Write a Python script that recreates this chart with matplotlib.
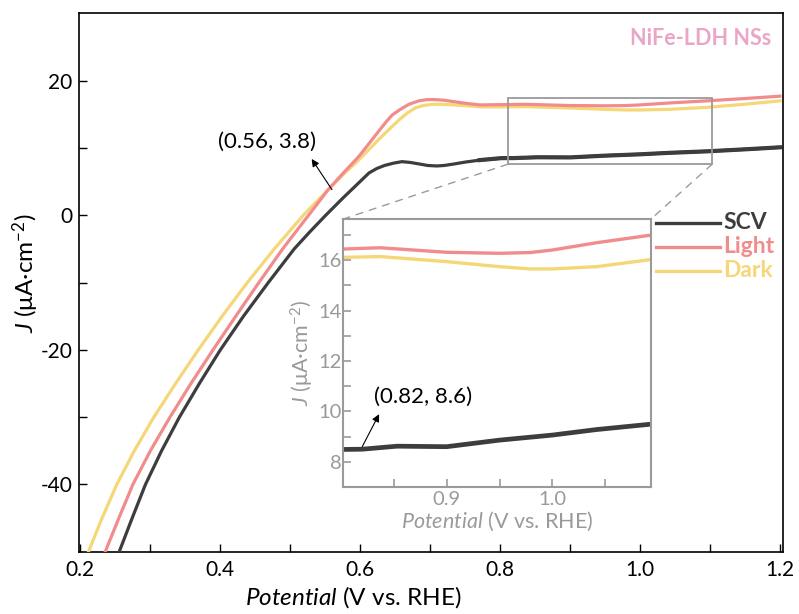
import numpy as np
import matplotlib
matplotlib.use('Agg')
import matplotlib.pyplot as plt
from matplotlib.patches import Rectangle, ConnectionPatch
from matplotlib.lines import Line2D

plt.rcParams['font.family'] = ['Lato', 'DejaVu Sans']
plt.rcParams['mathtext.fontset'] = 'custom'
plt.rcParams['mathtext.rm'] = 'Lato'
plt.rcParams['mathtext.it'] = 'Lato:italic'
plt.rcParams['mathtext.bf'] = 'Lato:bold'
plt.rcParams['axes.unicode_minus'] = False

# LSV curves, J in uA/cm2 vs potential in V vs. RHE
pot_scv = [0.256, 0.2745, 0.2935, 0.3165, 0.342, 0.3705, 0.4005, 0.4335, 0.469, 0.506,
           0.528, 0.551, 0.575, 0.6, 0.613, 0.624, 0.635, 0.648, 0.66, 0.672, 0.686, 0.697,
           0.71, 0.72, 0.733, 0.75, 0.771,
           0.802, 0.82, 0.853, 0.9, 0.95, 1.0, 1.042, 1.095, 1.15, 1.2]
j_scv = [-50, -45, -40, -35, -30, -25, -20, -15, -10, -5,
         -2.5, 0, 2.5, 5, 6.3, 6.95, 7.4, 7.75, 7.97, 7.85, 7.6, 7.4,
         7.33, 7.4, 7.6, 7.9, 8.2,
         8.49, 8.5, 8.62, 8.6, 8.86, 9.06, 9.28, 9.5, 9.8, 10.1]

pot_light = [0.236, 0.2555, 0.2755, 0.3005, 0.3285, 0.3585, 0.39, 0.4225, 0.4555, 0.4895,
             0.5265, 0.5545, 0.5755, 0.598, 0.614, 0.628, 0.6375, 0.646, 0.657, 0.67,
             0.684, 0.695, 0.705, 0.72, 0.733, 0.75, 0.771,
             0.802, 0.837, 0.9, 0.95, 0.979, 1.0, 1.042, 1.095, 1.15, 1.2]
j_light = [-50, -45, -40, -35, -30, -25, -20, -15, -10, -5,
           0, 3.8, 6.2, 8.7, 10.8, 12.66, 13.9, 14.9, 15.7, 16.5,
           17.0, 17.18, 17.2, 17.1, 16.9, 16.65, 16.4,
           16.44, 16.49, 16.31, 16.27, 16.3, 16.4, 16.69, 17.0, 17.35, 17.7]

pot_dark = [0.212, 0.2315, 0.2525, 0.2775, 0.3055, 0.3365, 0.369, 0.403, 0.439, 0.4775,
            0.519, 0.5545, 0.5735, 0.596, 0.613, 0.628, 0.638, 0.647, 0.656, 0.669,
            0.68, 0.69, 0.703, 0.715, 0.735, 0.755, 0.775,
            0.802, 0.837, 0.9, 0.95, 0.979, 1.0, 1.042, 1.095, 1.15, 1.2]
j_dark = [-50, -45, -40, -35, -30, -25, -20, -15, -10, -5,
          0, 3.8, 5.8, 8.0, 9.8, 11.4, 12.4, 13.3, 14.2, 15.3,
          16.0, 16.3, 16.48, 16.5, 16.4, 16.25, 16.1,
          16.11, 16.14, 15.94, 15.74, 15.65, 15.65, 15.74, 16.03, 16.5, 17.0]

# marked points
pt_main = (0.56, 3.8)
pt_inset = (0.82, 8.6)
zoom_box = (0.811, 7.58, 1.103, 17.47)

names = ['SCV', 'Light', 'Dark']
colors = ['#3d3d3d', '#f28c8c', '#f5d778']
grey = '#9a9a9a'

fig = plt.figure(figsize=(7.99, 6.14), dpi=100)
ax = fig.add_axes([0.09925, 0.1013, 0.8804, 0.8769])

ax.plot(pot_dark, j_dark, color=colors[2], lw=2.3, zorder=3)
ax.plot(pot_light, j_light, color=colors[1], lw=2.3, zorder=4)
ax.plot(pot_scv, j_scv, color=colors[0], lw=2.3, zorder=5)
# noisy tail of the SCV scan looks thicker
sel = np.array(pot_scv) >= 0.77
ax.plot(np.array(pot_scv)[sel], np.array(j_scv)[sel], color=colors[0], lw=3.0, zorder=5)

ax.set_xlim(0.199, 1.204)
ax.set_ylim(-50, 30)
ax.set_xticks([0.2, 0.4, 0.6, 0.8, 1.0, 1.2])
ax.set_xticklabels(['0.2', '0.4', '0.6', '0.8', '1.0', '1.2'])
ax.set_xticks([0.3, 0.5, 0.7, 0.9, 1.1], minor=True)
ax.set_yticks([-40, -20, 0, 20])
ax.set_yticks([-30, -10, 10], minor=True)
ax.tick_params(which='both', direction='in', length=6, width=1, labelsize=15)
ax.tick_params(axis='y', pad=5)
ax.tick_params(axis='x', pad=6)
for s in ax.spines.values():
    s.set_linewidth(1.2)

ax.set_xlabel(r'$\mathit{Potential}$ (V vs. RHE)', fontsize=17.5, va='top')
ax.xaxis.set_label_coords(0.389, -0.06)
ax.set_ylabel(r'$\mathit{J}$ (μA·cm$^{-2}$)', fontsize=17.5)
ax.yaxis.set_label_coords(-0.055, 0.518)

ax.text(0.983, 0.954, 'NiFe-LDH NSs', transform=ax.transAxes, ha='right', va='center',
        fontsize=15.5, fontweight='bold', color='#eaa6c8')

ax.annotate('', xy=(0.531, 8.37), xytext=pt_main,
            arrowprops=dict(arrowstyle='-|>', color='black', lw=0.8,
                            mutation_scale=11, shrinkA=0, shrinkB=0), zorder=6)
ax.text(0.4667, 10.9, '(%.2f, %.1f)' % pt_main, ha='center', va='center', fontsize=16)

# zoom window
x0, y0, x1, y1 = zoom_box
ax.add_patch(Rectangle((x0, y0), x1 - x0, y1 - y0, fill=False, ec=grey, lw=1.3, zorder=6))

# inset
axi = fig.add_axes([0.4297, 0.2068, 0.3851, 0.4365])
axi.plot(pot_dark, j_dark, color=colors[2], lw=2.4)
axi.plot(pot_light, j_light, color=colors[1], lw=2.4)
axi.plot(pot_scv, j_scv, color=colors[0], lw=3.4)
axi.set_xlim(0.8021, 1.0935)
axi.set_ylim(7.0, 17.63)
axi.set_xticks([0.9, 1.0])
axi.set_xticklabels(['0.9', '1.0'])
axi.set_xticks([0.85, 0.95, 1.05], minor=True)
axi.set_yticks([8, 10, 12, 14, 16])
axi.set_yticks([9, 11, 13, 15, 17], minor=True)
axi.tick_params(which='both', direction='in', length=6, width=1.2, color=grey,
                labelcolor=grey, labelsize=14.5)
axi.tick_params(axis='y', pad=1)
axi.tick_params(axis='x', pad=3)
for s in axi.spines.values():
    s.set_color(grey)
    s.set_linewidth(1.5)
axi.set_xlabel(r'$\mathit{Potential}$ (V vs. RHE)', fontsize=15.5, color=grey, labelpad=1)
axi.set_ylabel(r'$\mathit{J}$ (μA·cm$^{-2}$)', fontsize=15.5, color=grey, labelpad=2)

axi.annotate('', xy=(0.836, 9.89), xytext=pt_inset,
             arrowprops=dict(arrowstyle='-|>', color='black', lw=0.8,
                             mutation_scale=11, shrinkA=0, shrinkB=0))
axi.text(0.8776, 10.57, '(%.2f, %.1f)' % pt_inset, ha='center', va='center', fontsize=16)

for xa, xb in [(x0, 0.0), (x1, 1.0)]:
    con = ConnectionPatch(xyA=(xa, y0), coordsA=ax.transData,
                          xyB=(xb, 1.0), coordsB=axi.transAxes,
                          color=grey, lw=1.0, ls=(0, (5, 5)), zorder=2)
    fig.add_artist(con)

# legend to the right of the inset
for i, (name, c) in enumerate(zip(names, colors)):
    yy = 1 - (222.7 + 24 * i) / 614
    fig.add_artist(Line2D([656 / 799, 720 / 799], [yy, yy], transform=fig.transFigure,
                          color=c, lw=2.4))
    fig.text(723 / 799, yy, name, ha='left', va='center', fontsize=16.5,
             fontweight='bold', color=c)

fig.savefig('out.png', dpi=100)
